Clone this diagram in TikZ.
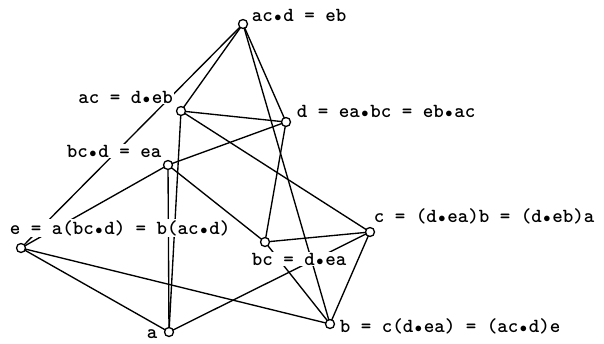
\documentclass[tikz,border=0pt]{standalone}
\usepackage{fontspec}
\usepackage{tikz}
\usepackage{tkz-euclide}

\newcommand{\pd}{\makebox[0.525em]{$\scriptstyle\bullet$}}
\tikzset{lbl/.style={fill=white, inner sep=1pt, font=\ttfamily\bfseries\fontsize{20}{20}\selectfont}}

\begin{document}
\begin{tikzpicture}[x=1pt,y=-1pt]
            \useasboundingbox (0,0) rectangle (604,343);
            \tkzDefPoints{243/24/ACD, 181/111/AC, 286/122/D, 168/165/BCD, 21/248/E, 265/242/BC, 370/232/C, 169/332/A, 330/324/B}
            \tkzDrawSegments[line width=1.35pt](ACD,AC ACD,E ACD,D ACD,B AC,D AC,C AC,A BCD,D BCD,BC BCD,E BCD,A E,A E,B BC,D BC,C BC,B C,A C,B)
            \node[lbl] (lACD) at (299,15) {ac\pd d = eb};
            \node[lbl] (lAC) at (125.5,97) {ac = d\pd eb};
            \node[lbl] (lD) at (386,111) {d = ea\pd bc = eb\pd ac};
            \node[lbl] (lBCD) at (114,151) {bc\pd d = ea};
            \node[lbl] (lE) at (120,228) {e = a(bc\pd d) = b(ac\pd d)};
            \node[lbl] (lC) at (484,216) {c = (d\pd ea)b = (d\pd eb)a};
            \node[lbl] (lBC) at (299,259) {bc = d\pd ea};
            \node[lbl, inner sep=0pt] (lA) at (152,334) {a};
            \node[lbl] (lB) at (450,326) {b = c(d\pd ea) = (ac\pd d)e};
            \tkzDrawPoints[fill=white, line width=1.3pt, size=9](ACD,AC,D,BCD,E,BC,C,A,B)
        \end{tikzpicture}
\end{document}
